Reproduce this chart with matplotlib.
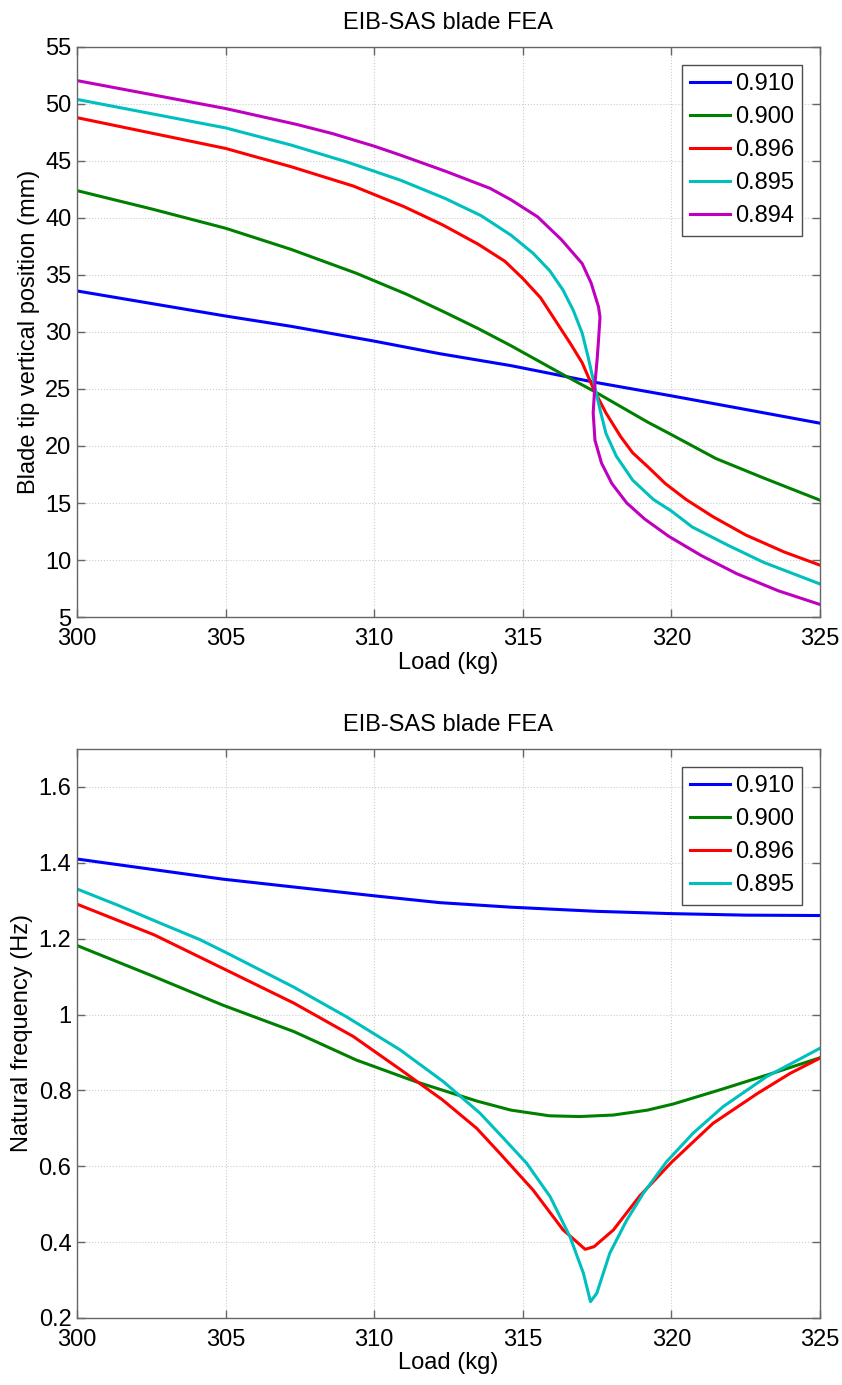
"""EIB-SAS blade FEA: tip position and natural frequency versus load."""

import matplotlib

matplotlib.use("Agg")
import matplotlib.pyplot as plt
from matplotlib.ticker import FormatStrFormatter, MultipleLocator

plt.rcParams["font.family"] = ["Liberation Sans", "DejaVu Sans"]

TITLE = "EIB-SAS blade FEA"
LABELS = ["0.910", "0.900", "0.896", "0.895", "0.894"]
COLORS = ["#0000ff", "#008000", "#ff0000", "#00bfbf", "#bf00bf"]

# --- top panel: blade tip vertical position (mm) ---
pos_x_910 = [300, 305, 307.2, 310, 312.2, 314.6, 317.4, 320, 322.3, 325]
pos_y_910 = [33.6, 31.4, 30.5, 29.2, 28.1, 27.05, 25.6, 24.4, 23.3, 22.0]

pos_x_900 = [300, 302.5, 305, 307.2, 309.4, 311.1, 312.4, 313.5, 314.6, 316.4,
             317.4, 319.2, 320, 321.5, 323.1, 325]
pos_y_900 = [42.4, 40.8, 39.1, 37.25, 35.15, 33.3, 31.7, 30.3, 28.8, 26.2,
             24.8, 22.1, 21.0, 18.9, 17.2, 15.25]

pos_x_896 = [300, 305, 307.2, 309.3, 311, 312.3, 313.5, 314.4, 315, 315.6, 316.1,
             316.6, 317.0, 317.4, 317.8, 318.3, 318.7, 319.2, 319.8, 320.5, 321.4,
             322.5, 323.8, 325]
pos_y_896 = [48.8, 46.1, 44.5, 42.8, 41.0, 39.4, 37.7, 36.2, 34.7, 33.0, 31.0,
             29.0, 27.3, 24.9, 22.9, 20.8, 19.4, 18.2, 16.7, 15.3, 13.8,
             12.2, 10.7, 9.55]

pos_x_895 = [300, 305, 307.2, 309.1, 310.9, 312.4, 313.6, 314.6, 315.35, 315.9,
             316.35, 316.7, 317.0, 317.2, 317.45, 317.6, 317.8, 318.15, 318.7,
             319.4, 320.0, 320.7, 321.9, 323.1, 325]
pos_y_895 = [50.4, 47.9, 46.4, 44.9, 43.3, 41.7, 40.2, 38.5, 36.9, 35.4,
             33.7, 31.9, 29.9, 27.8, 24.9, 23.2, 21.1, 19.1, 17.0,
             15.3, 14.3, 12.9, 11.3, 9.8, 7.9]

pos_x_894 = [300, 305, 307.4, 308.6, 310, 310.9, 312.4, 313.9, 314.6, 315.5,
             316.3, 317.0, 317.3, 317.55, 317.6, 317.55, 317.5, 317.43, 317.37,
             317.43, 317.65, 318.0, 318.5, 319.1, 319.9, 321.0, 322.2, 323.6, 325]
pos_y_894 = [52.05, 49.6, 48.2, 47.4, 46.3, 45.5, 44.1, 42.6, 41.6, 40.1,
             38.1, 36.0, 34.3, 32.2, 31.3, 29.3, 27.5, 25.5, 22.9,
             20.5, 18.5, 16.7, 15.0, 13.6, 12.1, 10.4, 8.8, 7.3, 6.1]

# --- bottom panel: natural frequency (Hz) ---
frq_x_910 = [300, 304.9, 307.2, 310, 312.2, 314.6, 317.5, 320, 322.5, 325]
frq_y_910 = [1.410, 1.357, 1.337, 1.313, 1.295, 1.283, 1.272, 1.266, 1.262, 1.261]

frq_x_900 = [300, 302.5, 304.9, 307.3, 309.4, 311.4, 313.45, 314.6, 315.9, 316.9,
             318.05, 319.2, 320.06, 321.7, 323.4, 325]
frq_y_900 = [1.182, 1.103, 1.025, 0.955, 0.880, 0.823, 0.772, 0.748, 0.733, 0.731,
             0.735, 0.748, 0.764, 0.803, 0.845, 0.886]

frq_x_896 = [300, 302.6, 304.9, 307.3, 309.3, 310.9, 312.3, 313.45, 314.23, 315.35,
             316.36, 317.1, 317.4, 318.05, 318.94, 320.0, 321.4, 322.9, 324, 325]
frq_y_896 = [1.291, 1.21, 1.122, 1.03, 0.942, 0.854, 0.775, 0.70, 0.634, 0.537,
             0.432, 0.381, 0.388, 0.432, 0.522, 0.61, 0.713, 0.792, 0.845, 0.885]

frq_x_895 = [300, 301.35, 302.8, 304.15, 305.05, 307.3, 309.07, 310.87, 312.33,
             313.56, 314.35, 315.13, 315.92, 316.59, 317.04, 317.28, 317.49,
             317.93, 318.5, 319.06, 319.84, 320.73, 321.74, 323.2, 325]
frq_y_895 = [1.331, 1.289, 1.241, 1.197, 1.162, 1.072, 0.994, 0.907, 0.823,
             0.740, 0.674, 0.608, 0.520, 0.414, 0.318, 0.243, 0.265,
             0.371, 0.458, 0.529, 0.612, 0.687, 0.757, 0.836, 0.911]

FS = 17


def estilo_eixo(ax, ylim, ystep, ylabel):
    ax.set_xlim(300, 325)
    ax.set_ylim(*ylim)
    ax.xaxis.set_major_locator(MultipleLocator(5))
    ax.yaxis.set_major_locator(MultipleLocator(ystep))
    ax.yaxis.set_major_formatter(FormatStrFormatter("%g"))
    ax.grid(True, linestyle=":", color="0.8", linewidth=0.8)
    ax.set_axisbelow(True)
    for s in ax.spines.values():
        s.set_color("0.4")
        s.set_linewidth(1.0)
    ax.tick_params(direction="in", length=6, width=1.0, color="0.4",
                   top=True, right=True, labelsize=FS, pad=4)
    ax.tick_params(axis="x", pad=8)
    ax.set_xlabel("Load (kg)", fontsize=FS, labelpad=1)
    ax.set_ylabel(ylabel, fontsize=FS, labelpad=4)
    ax.set_title(TITLE, fontsize=FS, pad=13)


def legenda(ax):
    leg = ax.legend(loc="upper right", fontsize=FS, frameon=True, fancybox=False,
                    framealpha=1, edgecolor="0.3", handlelength=1.7,
                    handletextpad=0.2, labelspacing=0.47, borderpad=0.35,
                    borderaxespad=0.75)
    leg.get_frame().set_linewidth(1.0)


fig = plt.figure(figsize=(8.42, 13.85), dpi=100)
ax1 = fig.add_axes([0.0914, 0.5545, 0.8824, 0.4116])
ax2 = fig.add_axes([0.0914, 0.0484, 0.8824, 0.4108])

pos = [(pos_x_910, pos_y_910), (pos_x_900, pos_y_900), (pos_x_896, pos_y_896),
       (pos_x_895, pos_y_895), (pos_x_894, pos_y_894)]
for (x, y), c, lab in zip(pos, COLORS, LABELS):
    ax1.plot(x, y, color=c, lw=2.2, label=lab)
estilo_eixo(ax1, (5, 55), 5, "Blade tip vertical position (mm)")
legenda(ax1)

frq = [(frq_x_910, frq_y_910), (frq_x_900, frq_y_900), (frq_x_896, frq_y_896),
       (frq_x_895, frq_y_895)]
for (x, y), c, lab in zip(frq, COLORS, LABELS):
    ax2.plot(x, y, color=c, lw=2.2, label=lab)
estilo_eixo(ax2, (0.2, 1.7), 0.2, "Natural frequency (Hz)")
legenda(ax2)

fig.savefig("out.png", dpi=100)
